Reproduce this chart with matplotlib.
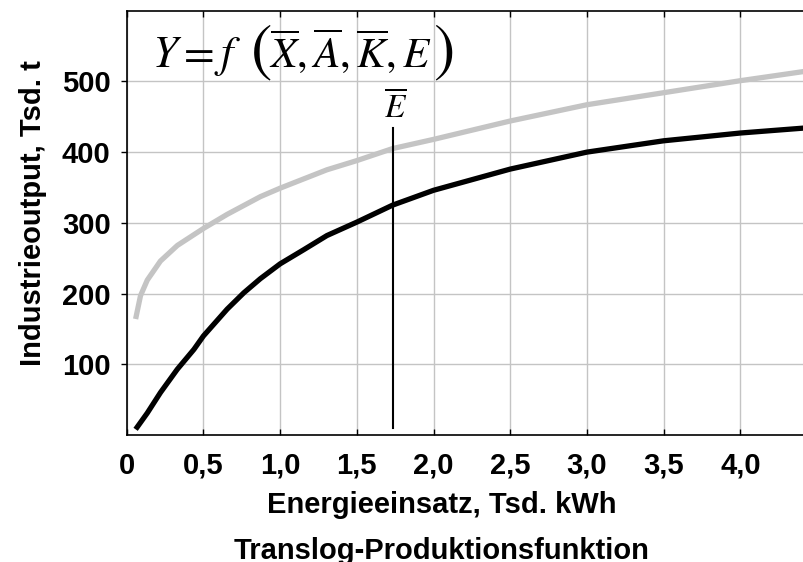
import numpy as np
import matplotlib
matplotlib.use("Agg")
import matplotlib.pyplot as plt

plt.rcParams['font.family'] = ['Liberation Sans', 'DejaVu Sans']
plt.rcParams['mathtext.fontset'] = 'stix'

# values
energy_black = [0.058, 0.134, 0.22, 0.33, 0.438, 0.5, 0.655, 0.763, 0.871, 1.0, 1.154, 1.305,
                1.5, 1.733, 2.0, 2.5, 3.0, 3.5, 4.0, 4.415]
output_black = [8, 31, 60, 93, 121, 140, 178, 201, 221, 242, 262, 282,
                301, 325, 346, 376, 400, 416, 427, 434]

energy_gray = [0.058, 0.09, 0.134, 0.22, 0.33, 0.5, 0.655, 0.871, 1.0, 1.305,
               1.5, 1.733, 2.0, 2.5, 3.0, 3.5, 4.0, 4.415]
output_gray = [164, 197, 219, 246, 268, 292, 312, 337, 349, 375,
               388, 405, 418, 444, 467, 484, 501, 514]

e_bar = 1.733
e_bar_range = [10, 434]

x_ticks = [0, 0.5, 1.0, 1.5, 2.0, 2.5, 3.0, 3.5, 4.0]
x_tick_labels = ["0", "0,5", "1,0", "1,5", "2,0", "2,5", "3,0", "3,5", "4,0"]
y_ticks = [100, 200, 300, 400, 500]

fig = plt.figure(figsize=(8.04, 5.62), dpi=100)
ax = fig.add_axes([0.1576, 0.226, 0.8424, 0.755])

ax.set_xlim(0, 4.415)
ax.set_ylim(0, 600)

ax.grid(True, color='#c4c4c4', linewidth=1.0)
ax.set_axisbelow(True)

ax.plot(energy_gray, output_gray, color='#c4c4c4', linewidth=3.8,
        solid_joinstyle='round', solid_capstyle='butt')
ax.plot(energy_black, output_black, color='black', linewidth=3.8,
        solid_joinstyle='round', solid_capstyle='butt')
ax.plot([e_bar, e_bar], e_bar_range, color='black', linewidth=1.5)

ax.set_xticks(x_ticks)
ax.set_xticklabels(x_tick_labels)
ax.set_yticks(y_ticks)

for lbl in ax.get_xticklabels() + ax.get_yticklabels():
    lbl.set_fontweight('bold')
    lbl.set_fontsize(21)

ax.tick_params(axis='x', direction='in', length=4, width=1, top=True, pad=12)
ax.tick_params(axis='y', direction='out', length=4.5, width=1, pad=7)

ax.spines['right'].set_visible(False)
for s in ['left', 'bottom', 'top']:
    ax.spines[s].set_linewidth(1.2)

ax.set_xlabel("Energieeinsatz, Tsd. kWh", fontsize=21, fontweight='bold')
ax.xaxis.set_label_coords(0.465, -0.133)
ax.xaxis.label.set_va('top')
ax.text(0.465, -0.24, "Translog-Produktionsfunktion", transform=ax.transAxes,
        fontsize=21, fontweight='bold', ha='center', va='top')

ax.set_ylabel("Industrieoutput, Tsd. t", fontsize=21, fontweight='bold')
ax.yaxis.set_label_coords(-0.118, 0.523)

# formula, put together in pieces so the brackets can be large
base = 1 - 67 / 562
fig.text(152 / 804, base, r'$Y=f$', fontsize=32, va='baseline', ha='left')
fig.text(250 / 804, 1 - 69 / 562, r'$($', fontsize=46, va='baseline', ha='left')
fig.text(269 / 804, base, r'$\overline{X},\overline{A},\overline{K},E$',
         fontsize=31, va='baseline', ha='left')
fig.text(433 / 804, 1 - 69 / 562, r'$)$', fontsize=46, va='baseline', ha='left')

fig.text(396 / 804, 1 - 117 / 562, r'$\overline{E}$',
         fontsize=24, va='baseline', ha='center')

fig.savefig("out.png", dpi=100)
